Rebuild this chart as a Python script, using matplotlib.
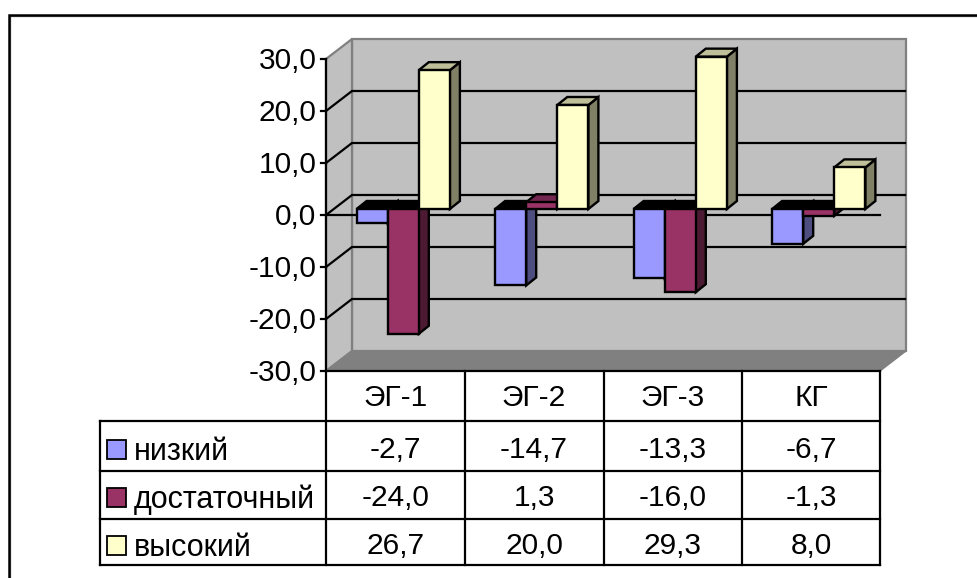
import matplotlib
matplotlib.use("Agg")
import matplotlib.pyplot as plt
from matplotlib.patches import Polygon, Rectangle

plt.rcParams['font.family'] = ['Liberation Sans', 'DejaVu Sans']

# Table and bar values
categories = ['ЭГ-1', 'ЭГ-2', 'ЭГ-3', 'КГ']
series_names = ['низкий', 'достаточный', 'высокий']
low = [-2.7, -14.7, -13.3, -6.7]
adequate = [-24.0, 1.3, -16.0, -1.3]
high = [26.7, 20.0, 29.3, 8.0]
y_ticks = [30, 20, 10, 0, -10, -20, -30]

series_values = [low, adequate, high]
front_colors = ['#9999FF', '#993366', '#FFFFCC']
side_colors = ['#4D4D80', '#4D1A33', '#808066']
top_colors = ['#737399', '#732650', '#BFBF99']

W, H = 978, 578
FONT = 21.5
fig = plt.figure(figsize=(W / 100, H / 100), dpi=100)

# Page layer in pixel coordinates: frame and table grid
page = fig.add_axes([0, 0, 1, 1])
page.set_xlim(0, W)
page.set_ylim(H, 0)
page.axis('off')

# Plot layer: category units across, percentage points up
PX_LEFT, PX_RIGHT, PX_TOP, PX_BOTTOM = 326, 880, 59, 371
ax = fig.add_axes([PX_LEFT / W, 1 - PX_BOTTOM / H,
                   (PX_RIGHT - PX_LEFT) / W, (PX_BOTTOM - PX_TOP) / H])
ax.set_xlim(0, len(categories))
ax.set_ylim(-30, 30)
ax.axis('off')
ax.patch.set_alpha(0)

PX_PER_CAT = (PX_RIGHT - PX_LEFT) / len(categories)
PX_PER_VAL = (PX_BOTTOM - PX_TOP) / 60


def pt(x, v, dx=0.0, dy=0.0):
    """Data position shifted by a depth offset given in pixels."""
    return (x + dx / PX_PER_CAT, v + dy / PX_PER_VAL)


def poly(points, fc, ec='black', lw=1.7, z=1):
    ax.add_patch(Polygon(points, closed=True, facecolor=fc, edgecolor=ec,
                         linewidth=lw, zorder=z, clip_on=False,
                         joinstyle='miter'))


WALL_DX, WALL_DY = 26, 20
GRAY = '#808080'
WALL = '#C0C0C0'
n = len(categories)

# Back wall, side wall and floor
poly([pt(0, -30, WALL_DX, WALL_DY), pt(n, -30, WALL_DX, WALL_DY),
      pt(n, 30, WALL_DX, WALL_DY), pt(0, 30, WALL_DX, WALL_DY)], WALL, GRAY, 1.6, 1)
poly([pt(0, -30), pt(0, -30, WALL_DX, WALL_DY),
      pt(0, 30, WALL_DX, WALL_DY), pt(0, 30)], WALL, GRAY, 1.6, 1)
poly([pt(0, -30), pt(n, -30), pt(n, -30, WALL_DX, WALL_DY),
      pt(0, -30, WALL_DX, WALL_DY)], GRAY, GRAY, 1.0, 1)

# Gridlines wrap from the side wall onto the back wall
for t in y_ticks[1:-1]:
    a, b = pt(0, t), pt(0, t, WALL_DX, WALL_DY)
    c = pt(n, t, WALL_DX, WALL_DY)
    c = (c[0] - 1.0 / PX_PER_CAT, c[1])
    ax.plot([a[0], b[0], c[0]], [a[1], b[1], c[1]], color='black', lw=1.6,
            zorder=2, clip_on=False, solid_joinstyle='miter')

# Zero line across the front of the plot
ax.plot([0, n], [0, 0], color='black', lw=1.6, zorder=3, clip_on=False)

# Value axis with outward ticks and labels
ax.plot([0, 0], [-30, 30], color='black', lw=1.6, zorder=6, clip_on=False)
for t in y_ticks:
    p0 = pt(0, t, -5, 0)
    p1 = pt(0, t)
    ax.plot([p0[0], p1[0]], [p0[1], p1[1]], color='black', lw=1.6, zorder=6,
            clip_on=False)
    lx, ly = pt(0, t, -9.5, -10.5)
    ax.text(lx, ly, f'{t:.1f}'.replace('.', ','), ha='right', va='baseline',
            fontsize=FONT, clip_on=False)

# Columns: each has a front, a side and a top face
BAR_W = 31.1 / PX_PER_CAT
BAR_DX, BAR_DY = 10, 8
BASE_DX, BASE_DY = 8, 6
z = 10
for i in range(n):
    group_left = i + 0.5 - 1.5 * BAR_W
    for s, values in enumerate(series_values):
        v = values[i]
        x0 = group_left + s * BAR_W
        x1 = x0 + BAR_W
        top = max(v, 0)
        bottom = min(v, 0)
        off = lambda x, val, back=False: pt(
            x, val,
            BASE_DX + (BAR_DX if back else 0),
            BASE_DY + (BAR_DY if back else 0))
        poly([off(x1, bottom), off(x1, bottom, True), off(x1, top, True), off(x1, top)],
             side_colors[s], z=z)
        top_color = top_colors[s] if v > 0 else 'black'
        poly([off(x0, top), off(x1, top), off(x1, top, True), off(x0, top, True)],
             top_color, z=z)
        poly([off(x0, bottom), off(x1, bottom), off(x1, top), off(x0, top)],
             front_colors[s], z=z)
        z += 1

# Outer frame, open on the right and at the bottom, with a soft inner edge
page.plot([10.2, 10.2, W], [H, 16.2, 16.2], color='#909090', lw=1.0,
          solid_joinstyle='miter', zorder=1)
page.plot([8.5, 8.5, W], [H, 14.5, 14.5], color='black', lw=1.8,
          solid_joinstyle='miter', zorder=2)

# Data table grid
col_x = [326, 464.5, 603.5, 742, 880]
row_y = [371, 421, 471, 519, 565]
TABLE_LEFT = 99.5
for i, y in enumerate(row_y):
    page.plot([col_x[0] if i == 0 else TABLE_LEFT, col_x[-1]], [y, y],
              color='black', lw=1.6, zorder=20)
for x in col_x:
    page.plot([x, x], [row_y[0], row_y[-1]], color='black', lw=1.6, zorder=20)
page.plot([TABLE_LEFT, TABLE_LEFT], [row_y[1], row_y[-1]], color='black',
          lw=1.6, zorder=20)
page.set_zorder(ax.get_zorder() + 1)
page.patch.set_alpha(0)

header_base = 406
for j, name in enumerate(categories):
    page.text((col_x[j] + col_x[j + 1]) / 2, header_base, name, ha='center',
              va='baseline', fontsize=FONT)

legend_base = [460, 508, 556.5]
value_base = [458, 506, 554]
key_mid = [449, 497.5, 545.5]
for s, name in enumerate(series_names):
    page.add_patch(Rectangle((106.5, key_mid[s] - 9.5), 19, 19,
                             facecolor=front_colors[s], edgecolor='black', lw=1.3))
    page.text(134, legend_base[s], name, ha='left', va='baseline', fontsize=22)
    for j, v in enumerate(series_values[s]):
        page.text((col_x[j] + col_x[j + 1]) / 2, value_base[s],
                  f'{v:.1f}'.replace('.', ','), ha='center', va='baseline',
                  fontsize=FONT)

fig.savefig('out.png', dpi=100, facecolor='white')
